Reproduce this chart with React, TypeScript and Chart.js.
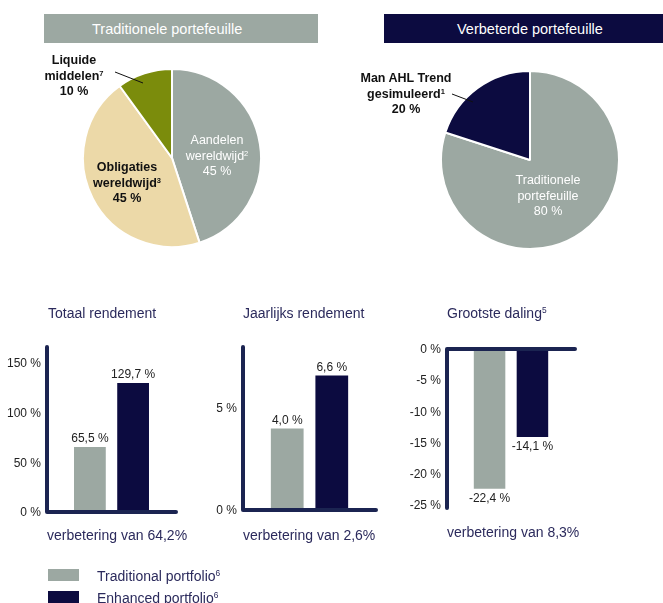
import React, { useEffect, useRef } from "react";
import { Chart, registerables } from "chart.js";

Chart.register(...registerables);

// ---------- data ----------
const SERIES = ["Traditional portfolio", "Enhanced portfolio"];
const TOTAL_RETURN = [65.5, 129.7];
const ANNUAL_RETURN = [4.0, 6.6];
const MAX_DRAWDOWN = [-22.4, -14.1];
const TOTAL_TICKS = [0, 50, 100, 150];
const ANNUAL_TICKS = [0, 5];
const DRAWDOWN_TICKS = [0, -5, -10, -15, -20, -25];

const TRAD_ALLOC_LABELS = ["Aandelen wereldwijd", "Obligaties wereldwijd", "Liquide middelen"];
const TRAD_ALLOC = [45, 45, 10];
const ENH_ALLOC_LABELS = ["Traditionele portefeuille", "Man AHL Trend gesimuleerd"];
const ENH_ALLOC = [80, 20];

// ---------- styles ----------
const FONT = '"Liberation Sans", Arial, Helvetica, sans-serif';
const GRAY = "#9ca8a2";
const NAVY = "#0c0b40";
const BEIGE = "#ecd9a8";
const OLIVE = "#7b8c0c";
const AXIS = "#1b2451";
const TEXT_NAVY = "#2b2a5c";
const SERIES_COLORS = [GRAY, NAVY];

Chart.defaults.font.family = FONT;

const fmt = (v: number) => v.toFixed(1).replace(".", ",") + " %";

const axisPlugin = {
  id: "axisLines",
  afterDatasetsDraw(chart: any) {
    const { ctx, chartArea } = chart;
    const y = chart.scales.y;
    const zero = y.getPixelForValue(0);
    ctx.save();
    ctx.strokeStyle = AXIS;
    ctx.lineWidth = 4;
    ctx.lineCap = "round";
    ctx.beginPath();
    ctx.moveTo(chartArea.left, chartArea.top);
    ctx.lineTo(chartArea.left, chartArea.bottom);
    ctx.moveTo(chartArea.left, zero);
    ctx.lineTo(chartArea.right, zero);
    ctx.stroke();
    ctx.restore();
  },
};

const valueLabelPlugin = {
  id: "valueLabels",
  afterDatasetsDraw(chart: any) {
    const { ctx } = chart;
    ctx.save();
    ctx.font = `12px ${FONT}`;
    ctx.fillStyle = "#222";
    ctx.textAlign = "center";
    chart.data.datasets.forEach((ds: any, i: number) => {
      const meta = chart.getDatasetMeta(i);
      meta.data.forEach((el: any, j: number) => {
        const v = ds.data[j];
        if (v >= 0) {
          ctx.textBaseline = "bottom";
          ctx.fillText(fmt(v), el.x, el.y - 2);
        } else {
          ctx.textBaseline = "top";
          ctx.fillText(fmt(v), el.x, el.y + 4);
        }
      });
    });
    ctx.restore();
  },
};

type BarProps = {
  values: number[];
  ticks: number[];
  min: number;
  max: number;
  left: number;
  top: number;
  yWidth: number;
  pad: { top: number; right: number; bottom: number };
};

function BarPanel({ values, ticks, min, max, left, top, yWidth, pad }: BarProps) {
  const ref = useRef<HTMLCanvasElement>(null);
  useEffect(() => {
    const chart = new Chart(ref.current!, {
      type: "bar",
      data: {
        labels: [""],
        datasets: SERIES.map((s, i) => ({
          label: s,
          data: [values[i]],
          backgroundColor: SERIES_COLORS[i],
          categoryPercentage: 0.67,
          barPercentage: 0.735,
        })),
      },
      options: {
        responsive: false,
        animation: false,
        devicePixelRatio: 1,
        layout: { padding: { top: pad.top, right: pad.right, bottom: pad.bottom, left: 0 } },
        plugins: { legend: { display: false }, tooltip: { enabled: false } },
        scales: {
          x: { display: false },
          y: {
            min,
            max,
            afterBuildTicks: (s: any) => {
              s.ticks = ticks.map((v) => ({ value: v }));
            },
            afterFit: (s: any) => {
              s.width = yWidth;
              s.paddingTop = 0;
              s.paddingBottom = 0;
            },
            grid: { display: false, drawTicks: false },
            border: { display: false },
            ticks: {
              padding: 6,
              labelOffset: 1,
              color: "#222",
              font: { size: 12, family: FONT },
              callback: (v: any) => `${v} %`,
            },
          },
        },
      } as any,
      plugins: [axisPlugin, valueLabelPlugin],
    });
    return () => chart.destroy();
  }, []);
  return (
    <canvas
      ref={ref}
      width={200}
      height={185}
      style={{ position: "absolute", left, top, width: 200, height: 185 }}
    />
  );
}

function PiePanel({
  labels,
  values,
  colors,
  left,
  top,
}: {
  labels: string[];
  values: number[];
  colors: string[];
  left: number;
  top: number;
}) {
  const ref = useRef<HTMLCanvasElement>(null);
  useEffect(() => {
    const chart = new Chart(ref.current!, {
      type: "pie",
      data: {
        labels,
        datasets: [{ data: values, backgroundColor: colors, borderColor: "#fff", borderWidth: 2 }],
      },
      options: {
        responsive: false,
        animation: false,
        devicePixelRatio: 1,
        plugins: { legend: { display: false }, tooltip: { enabled: false } },
      } as any,
    });
    return () => chart.destroy();
  }, []);
  return (
    <canvas
      ref={ref}
      width={180}
      height={180}
      style={{ position: "absolute", left, top, width: 180, height: 180 }}
    />
  );
}

const Sup = ({ c }: { c: string }) => (
  <span style={{ fontSize: "0.6em", verticalAlign: "0.55em", lineHeight: 0 }}>{c}</span>
);

function Label({
  cx,
  top,
  lines,
  color,
  bold,
  size,
}: {
  cx: number;
  top: number;
  lines: React.ReactNode[];
  color: string;
  bold?: boolean;
  size: number;
}) {
  return (
    <div
      style={{
        position: "absolute",
        left: cx - 70,
        top,
        width: 140,
        textAlign: "center",
        color,
        fontWeight: bold ? 700 : 400,
        fontSize: size,
        lineHeight: "15.5px",
        whiteSpace: "nowrap",
      }}
    >
      {lines.map((l, i) => (
        <div key={i}>{l}</div>
      ))}
    </div>
  );
}

function Text({
  left,
  cy,
  size,
  color,
  children,
}: {
  left: number;
  cy: number;
  size: number;
  color: string;
  children: React.ReactNode;
}) {
  return (
    <div
      style={{
        position: "absolute",
        left,
        top: cy - 10,
        height: 20,
        lineHeight: "20px",
        fontSize: size,
        color,
        whiteSpace: "nowrap",
      }}
    >
      {children}
    </div>
  );
}

export default function App() {
  return (
    <div
      style={{
        position: "absolute",
        left: 0,
        top: 0,
        width: 663,
        height: 603,
        overflow: "hidden",
        background: "#fff",
        fontFamily: FONT,
      }}
    >
      {/* headers */}
      <div style={{ position: "absolute", left: 44, top: 14, width: 274, height: 29, background: GRAY }} />
      <Text left={92} cy={29} size={14.5} color="#fff">
        Traditionele portefeuille
      </Text>
      <div style={{ position: "absolute", left: 384, top: 14, width: 279, height: 29, background: NAVY }} />
      <Text left={457} cy={29} size={14.5} color="#fff">
        Verbeterde portefeuille
      </Text>

      {/* pies */}
      <PiePanel labels={TRAD_ALLOC_LABELS} values={TRAD_ALLOC} colors={[GRAY, BEIGE, OLIVE]} left={82} top={68} />
      <PiePanel labels={ENH_ALLOC_LABELS} values={ENH_ALLOC} colors={[GRAY, NAVY]} left={440} top={70} />

      <svg width={663} height={603} style={{ position: "absolute", left: 0, top: 0, pointerEvents: "none" }}>
        <line x1={115} y1={72} x2={143} y2={83} stroke="#111" strokeWidth={1} />
        <line x1={452} y1={94} x2={473} y2={102} stroke="#111" strokeWidth={1} />
      </svg>

      <Label
        cx={217}
        top={133}
        color="#fff"
        size={12.5}
        lines={[
          "Aandelen",
          <>
            wereldwijd<Sup c="2" />
          </>,
          `${TRAD_ALLOC[0]} %`,
        ]}
      />
      <Label
        cx={127}
        top={160}
        color="#111"
        bold
        size={12.5}
        lines={[
          "Obligaties",
          <>
            wereldwijd<Sup c="3" />
          </>,
          `${TRAD_ALLOC[1]} %`,
        ]}
      />
      <Label
        cx={74}
        top={53}
        color="#111"
        bold
        size={12.5}
        lines={[
          "Liquide",
          <>
            middelen<Sup c="7" />
          </>,
          `${TRAD_ALLOC[2]} %`,
        ]}
      />
      <Label
        cx={406}
        top={71}
        color="#111"
        bold
        size={12.5}
        lines={[
          "Man AHL Trend",
          <>
            gesimuleerd<Sup c="1" />
          </>,
          `${ENH_ALLOC[1]} %`,
        ]}
      />
      <Label
        cx={548}
        top={173}
        color="#fff"
        size={12.5}
        lines={["Traditionele", "portefeuille", `${ENH_ALLOC[0]} %`]}
      />

      {/* bar titles */}
      <Text left={48} cy={313} size={14} color={TEXT_NAVY}>
        Totaal rendement
      </Text>
      <Text left={243} cy={313} size={14} color={TEXT_NAVY}>
        Jaarlijks rendement
      </Text>
      <Text left={447} cy={313} size={14} color={TEXT_NAVY}>
        Grootste daling<Sup c="5" />
      </Text>

      <BarPanel
        values={TOTAL_RETURN}
        ticks={TOTAL_TICKS}
        min={0}
        max={166}
        left={0}
        top={337}
        yWidth={47}
        pad={{ top: 10, right: 24, bottom: 10 }}
      />
      <BarPanel
        values={ANNUAL_RETURN}
        ticks={ANNUAL_TICKS}
        min={0}
        max={8}
        left={200}
        top={337}
        yWidth={43}
        pad={{ top: 10, right: 24, bottom: 12 }}
      />
      <BarPanel
        values={MAX_DRAWDOWN}
        ticks={DRAWDOWN_TICKS}
        min={-25.5}
        max={0}
        left={400}
        top={339}
        yWidth={47}
        pad={{ top: 10, right: 25, bottom: 16 }}
      />

      <Text left={47} cy={535} size={14} color={TEXT_NAVY}>
        verbetering van 64,2%
      </Text>
      <Text left={243} cy={535} size={14} color={TEXT_NAVY}>
        verbetering van 2,6%
      </Text>
      <Text left={447} cy={532} size={14} color={TEXT_NAVY}>
        verbetering van 8,3%
      </Text>

      {/* legend */}
      <div style={{ position: "absolute", left: 48, top: 569, width: 31, height: 12, background: GRAY }} />
      <Text left={97} cy={576} size={14} color={TEXT_NAVY}>
        {SERIES[0]}
        <Sup c="6" />
      </Text>
      <div style={{ position: "absolute", left: 48, top: 591, width: 31, height: 12, background: NAVY }} />
      <Text left={97} cy={598} size={14} color={TEXT_NAVY}>
        {SERIES[1]}
        <Sup c="6" />
      </Text>
    </div>
  );
}
